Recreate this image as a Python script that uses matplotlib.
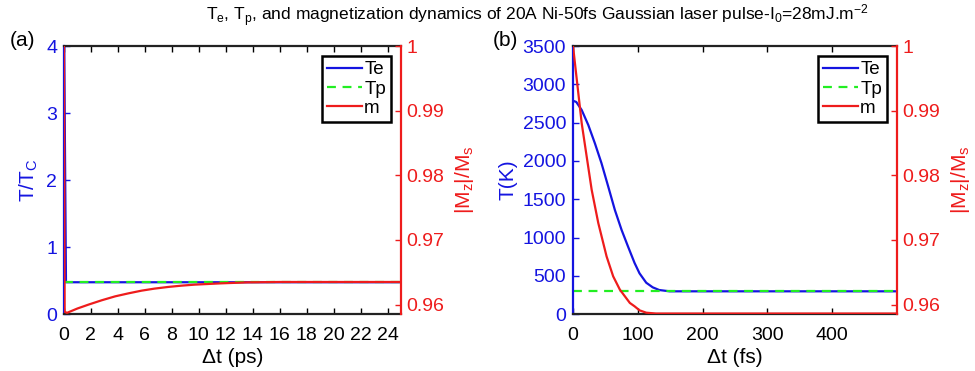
import numpy as np
import matplotlib
matplotlib.use("Agg")
import matplotlib.pyplot as plt
from matplotlib.lines import Line2D

plt.rcParams["font.family"] = ["Liberation Sans", "DejaVu Sans"]
plt.rcParams["mathtext.fontset"] = "custom"
plt.rcParams["mathtext.rm"] = "Liberation Sans"
plt.rcParams["mathtext.it"] = "Liberation Sans:italic"

# (a) long time scale, ps ; temperatures normalised to Tc
t_ps = [0.0, 0.15, 2, 4, 6, 8, 10, 12, 14, 16, 18, 20, 22, 25]
te_a = [4.45, 0.478, 0.478, 0.478, 0.478, 0.478, 0.478, 0.478, 0.478, 0.478, 0.478, 0.478, 0.478, 0.478]
tp_a = [0.478] * len(t_ps)
m_ps = [0.0, 0.05, 0.22, 1.0, 1.82, 2.8, 3.8, 4.8, 5.76, 6.7, 7.72, 8.7, 9.7, 11.66, 13.6, 16, 20, 25]
m_a = [1.0, 0.9589, 0.95872, 0.9594, 0.9600, 0.96067, 0.96128, 0.96175, 0.96216, 0.96247,
       0.96273, 0.96293, 0.96309, 0.96329, 0.96344, 0.9635, 0.9635, 0.9635]

# (b) short time scale, fs ; temperatures in K
t_fs = [0, 5, 13.4, 23.6, 33.8, 44, 54.4, 64.6, 75, 85, 95, 102.6, 113, 123, 133, 149, 164, 200, 300, 400, 500]
te_b = [2786, 2770, 2665, 2469, 2230, 1970, 1665, 1361, 1100, 882, 670, 535, 412, 352,
        317, 300, 300, 300, 300, 300, 300]
tp_b = [300] * len(t_fs)
t_m_fs = [0, 13.4, 21.1, 28.8, 39, 51.8, 62, 72.3, 87.7, 95, 102.6, 113, 128, 150, 200, 300, 400, 500]
m_b = [1.0, 0.98806, 0.9829, 0.97776, 0.97262, 0.96746, 0.96437, 0.96232, 0.96026,
       0.95974, 0.95912, 0.95875, 0.95862, 0.95862, 0.95862, 0.95862, 0.95862, 0.95862]

BLUE = "#1414e0"
GREEN = "#22ee22"
RED = "#ee1c1c"
FS = 14

fig = plt.figure(figsize=(9.75, 3.71), dpi=100)
ax_a = fig.add_axes([0.0656, 0.1528, 0.3457, 0.7232])
ax_b = fig.add_axes([0.5877, 0.1528, 0.3323, 0.7232])


def setup(ax, xlim, xticks, ylim, yticks, ylabel, xlabel):
    ax2 = ax.twinx()
    ax.set_xlim(*xlim)
    ax.set_xticks(xticks)
    ax.set_ylim(*ylim)
    ax.set_yticks(yticks)
    ax2.set_ylim(0.9585, 1.0)
    ax2.set_yticks([0.96, 0.97, 0.98, 0.99, 1.0])
    ax2.set_yticklabels(["0.96", "0.97", "0.98", "0.99", "1"])
    ax.tick_params(axis="x", direction="in", length=4, width=1, top=True,
                   labelsize=FS, colors="black", pad=9)
    ax.tick_params(axis="y", direction="in", length=4, width=1,
                   labelsize=FS, colors=BLUE, pad=5)
    ax2.tick_params(axis="y", direction="in", length=4, width=1,
                    labelsize=FS, colors=RED, pad=4)
    for s in ["top", "bottom"]:
        ax.spines[s].set_color("#222222")
        ax.spines[s].set_linewidth(1.6)
    ax.spines["left"].set_color(BLUE)
    ax.spines["left"].set_linewidth(1.6)
    ax.spines["right"].set_visible(False)
    for s in ["top", "bottom", "left"]:
        ax2.spines[s].set_visible(False)
    ax2.spines["right"].set_color(RED)
    ax2.spines["right"].set_linewidth(1.6)
    ax.set_ylabel(ylabel, color=BLUE, fontsize=FS + 1, labelpad=4)
    ax2.set_ylabel(r"|M$_\mathrm{z}$|/M$_\mathrm{s}$", color=RED, fontsize=FS + 1, labelpad=6)
    ax.set_xlabel(xlabel, fontsize=FS + 1, labelpad=3)
    return ax2


ax2_a = setup(ax_a, (0, 25), range(0, 25, 2), (0, 4), [0, 1, 2, 3, 4],
              r"T/T$_\mathrm{C}$", "\u0394t (ps)")
ax_a.plot(t_ps, te_a, color=BLUE, lw=1.6)
ax_a.plot(t_ps, tp_a, color=GREEN, lw=1.6, ls=(0, (4, 3)))
ax2_a.plot(m_ps, m_a, color=RED, lw=1.6)

ax2_b = setup(ax_b, (0, 500), [0, 100, 200, 300, 400], (0, 3500),
              range(0, 3501, 500), "T(K)", "\u0394t (fs)")
ax_b.plot(t_fs, te_b, color=BLUE, lw=1.6)
ax_b.plot(t_fs, tp_b, color=GREEN, lw=1.6, ls=(0, (4, 3)))
ax2_b.plot(t_m_fs, m_b, color=RED, lw=1.6)

handles = [Line2D([], [], color=BLUE, lw=1.6),
           Line2D([], [], color=GREEN, lw=1.6, ls=(0, (4, 3))),
           Line2D([], [], color=RED, lw=1.6)]
for ax2 in (ax2_a, ax2_b):
    leg = ax2.legend(handles, ["Te", "Tp", "m"], loc="upper right",
                     fontsize=FS - 0.5, fancybox=False, framealpha=1,
                     edgecolor="black", handlelength=1.9, handletextpad=0.1,
                     labelspacing=0.12, borderpad=0.25, borderaxespad=0.55)
    leg.get_frame().set_linewidth(1.8)

fig.text(0.551, 0.943,
         r"T$_\mathrm{e}$, T$_\mathrm{p}$, and magnetization dynamics of 20A Ni-50fs Gaussian laser pulse-I$_\mathrm{0}$=28mJ.m$^{\mathrm{-2}}$",
         ha="center", va="baseline", fontsize=12.5)
fig.text(0.0103, 0.892, "(a)", ha="left", va="center", fontsize=FS + 1)
fig.text(0.5056, 0.892, "(b)", ha="left", va="center", fontsize=FS + 1)

fig.savefig("out.png", dpi=100)
